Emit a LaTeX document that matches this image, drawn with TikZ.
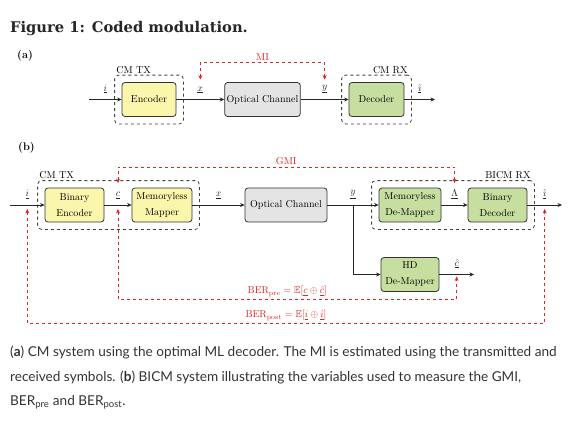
\documentclass[tikz,border=0pt]{standalone}
\usepackage{amsmath}
\usepackage{amssymb}
\usepackage{fontspec}
\usetikzlibrary{arrows.meta,positioning,fit}
\newfontfamily\titlefont{DejaVu Serif}
\newfontfamily\capfont{Lato}
\definecolor{encyellow}{RGB}{250,246,172}
\definecolor{chgray}{RGB}{228,228,228}
\definecolor{decgreen}{RGB}{198,222,160}
\definecolor{measred}{RGB}{222,36,36}
\definecolor{captext}{RGB}{51,51,51}

\begin{document}
\begin{tikzpicture}[x=1pt, y=-1pt,
    every node/.style={font=\fontsize{10}{16}\selectfont, align=center},
    block/.style={draw=black!80, thick, rounded corners=3pt, minimum height=34pt, inner sep=2pt},
    txbox/.style={block, fill=encyellow},
    chbox/.style={block, fill=chgray},
    rxbox/.style={block, fill=decgreen},
    group/.style={draw=black!75, thick, dashed, rounded corners=4pt, inner sep=7pt},
    sig/.style={-{Stealth[length=4.5pt,width=4pt]}, black!85, semithick},
    meas/.style={{Stealth[length=4.5pt,width=4pt]}-{Stealth[length=4.5pt,width=4pt]}, measred, semithick, dashed},
    var/.style={above=5pt, inner sep=1pt},
    mlabel/.style={text=measred, inner sep=2pt},
    captline/.style={anchor=base west, inner sep=0pt, align=left, font=\capfont\fontsize{13.6}{15}\selectfont, text=captext}]
    \useasboundingbox (0,0) rectangle (569,420);

    % title and panel tags
    \node[anchor=base west, inner sep=0pt, font=\titlefont\bfseries\fontsize{14.7}{18}\selectfont, text=black!85] (title) at (10,33) {Figure 1: Coded modulation.};
    \node[anchor=base west, inner sep=0pt, font=\bfseries\fontsize{11}{13}\selectfont] (taga) at (17,59) {(a)};
    \node[anchor=base west, inner sep=0pt, font=\bfseries\fontsize{11}{13}\selectfont] (tagb) at (18,150) {(b)};

    % (a) CM system
    \node[txbox, minimum width=54pt] (enc) at (149,99.5) {Encoder};
    \node[chbox, minimum width=75pt] (och) at (262.5,99.5) {Optical Channel};
    \node[rxbox, minimum width=55pt] (dec) at (376.5,99.5) {Decoder};
    \node[group, fit=(enc), label={[anchor=south west, inner sep=1pt, xshift=1pt]north west:CM TX}] (cmtx) {};
    \node[group, fit=(dec), label={[anchor=south east, inner sep=1pt, xshift=-3pt]north east:CM RX}] (cmrx) {};
    \coordinate (ain) at (89,99.5);
    \coordinate (aout) at (435,99.5);

    \draw[sig] (ain) -- node[var] (ai) {$\underline{i}$} (enc);
    \draw[sig] (enc) -- node[var] (ax) {$\underline{x}$} (och);
    \draw[sig] (och) -- node[var] (ay) {$\underline{y}$} (dec);
    \draw[sig] (dec) -- node[var] (aihat) {$\underline{\hat{\imath}}$} (aout);
    \draw[meas] ([yshift=6pt]ax.north) -- ++(0,-17) -| node[mlabel, pos=0.25, above] {MI} ([yshift=6pt]ax.north -| ay);

    % (b) BICM system
    \node[txbox, minimum width=59pt] (benc) at (74.5,205) {Binary\\Encoder};
    \node[txbox, minimum width=60pt] (map) at (162,205) {Memoryless\\Mapper};
    \node[chbox, minimum width=82pt] (och2) at (286,205) {Optical Channel};
    \node[rxbox, minimum width=62pt] (demap) at (410,205) {Memoryless\\De-Mapper};
    \node[rxbox, minimum width=59pt] (bdec) at (497.5,205) {Binary\\Decoder};
    \node[rxbox, minimum width=58pt] (hd) at (410,274.5) {HD\\De-Mapper};
    \node[group, fit=(benc)(map), label={[anchor=south west, inner sep=1pt, xshift=1pt]north west:CM TX}] (bicmtx) {};
    \node[group, fit=(demap)(bdec), label={[anchor=south east, inner sep=1pt, xshift=-3pt]north east:BICM RX}] (bicmrx) {};
    \coordinate (bin) at (10,205);
    \coordinate (bout) at (562,205);
    \coordinate (hdout) at (474,274.5);

    \draw[sig] (bin) -- node[var] (bi) {$\underline{i}$} coordinate (imid) (benc);
    \draw[sig] (benc) -- node[var] (bc) {$\underline{c}$} coordinate (cmid) (map);
    \draw[sig] (map) -- node[var] (bx) {$\underline{x}$} (och2);
    \draw[sig] (och2) -- node[var] (by) {$\underline{y}$} (demap);
    \draw[sig] (by |- och2.east) |- (hd);
    \draw[sig] (demap) -- node[var] (blam) {$\underline{\Lambda}$} (bdec);
    \draw[sig] (bdec) -- node[var] (bihat) {$\underline{\hat{\imath}}$} coordinate (ihatmid) (bout);
    \draw[sig] (hd) -- node[var] (bchat) {$\underline{\hat{c}}$} coordinate (chatmid) (hdout);

    % measured quantities
    \draw[meas] ([yshift=8pt]bc.north) -- ++(0,-16) -| node[mlabel, pos=0.25, above] {GMI} ([yshift=8pt]bc.north -| blam);
    \draw[meas] ([yshift=-4pt]cmid) -- ++(0,90) -| node[mlabel, pos=0.25, above] {$\mathrm{BER}_\mathrm{pre}=\mathbb{E}[\underline{c}\oplus\underline{\hat{c}}]$} ([yshift=-2pt]chatmid);
    \draw[meas] ([yshift=-4pt]imid) -- ++(0,114) -| node[mlabel, pos=0.25, above] {$\mathrm{BER}_\mathrm{post}=\mathbb{E}[\underline{i}\oplus\underline{\hat{\imath}}]$} ([yshift=-4pt]ihatmid);

    % caption
    \node[captline] (cap1) at (10,356) {(\textbf{a}) CM system using the optimal ML decoder. The MI is estimated using the transmitted and};
    \node[captline] (cap2) at (10,381) {received symbols. (\textbf{b}) BICM system illustrating the variables used to measure the GMI,};
    \node[captline] (cap3) at (10,405) {BER\textsubscript{pre} and BER\textsubscript{post}.};
\end{tikzpicture}
\end{document}
